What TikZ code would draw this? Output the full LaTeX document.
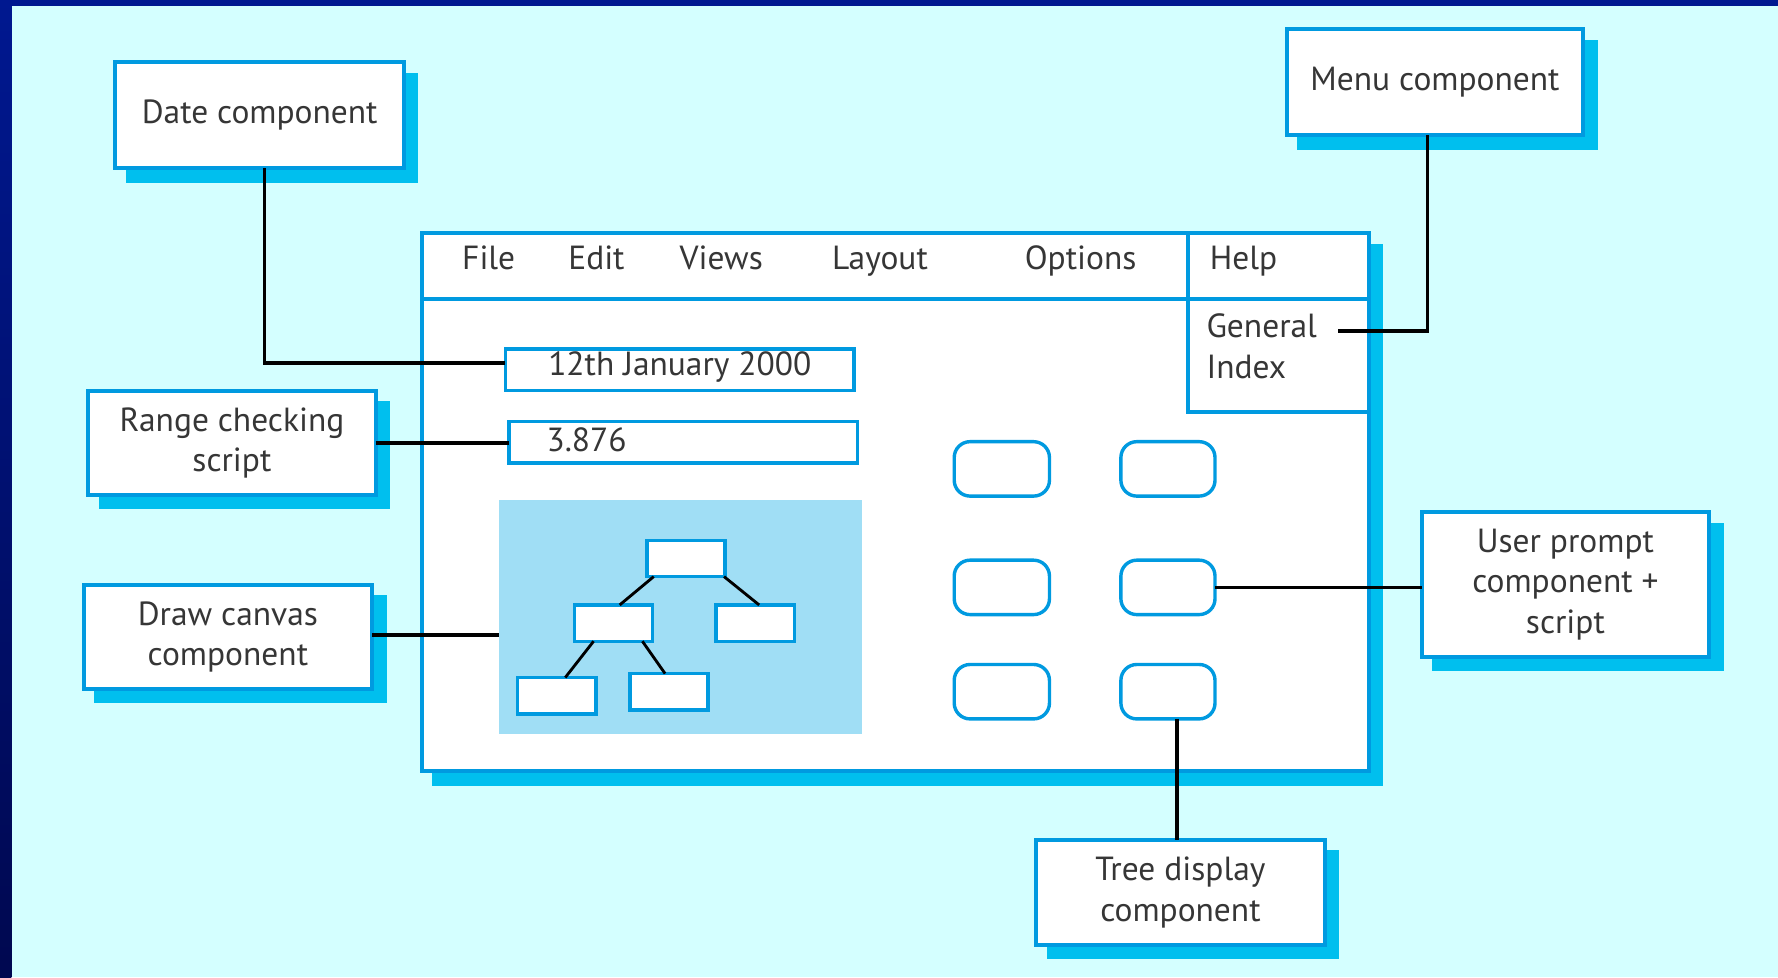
\documentclass[tikz,border=0pt]{standalone}
\usepackage{fontspec}
\setmainfont{PT Sans}
\usetikzlibrary{shadows,calc}
\definecolor{bg}{HTML}{D4FFFF}
\definecolor{bord}{HTML}{009AE0}
\definecolor{shad}{HTML}{00BFEE}
\definecolor{canv}{HTML}{A0DEF5}
\definecolor{navyA}{HTML}{001890}
\definecolor{navyB}{HTML}{000850}
\definecolor{txt}{HTML}{363636}
\tikzset{
  every node/.style={font=\fontsize{29.5}{35.5}\selectfont, text=txt, inner sep=0pt, outer sep=0pt},
  myshadow/.style={drop shadow={shadow xshift=11pt, shadow yshift=-11pt, opacity=1, fill=shad, draw=shad, line width=3.5pt}},
  comp/.style={draw=bord, line width=3.5pt, fill=white, align=center, myshadow},
  field/.style={draw=bord, line width=3pt, fill=white, minimum width=307.5pt, minimum height=36.5pt},
  leaf/.style={draw=bord, line width=3pt, fill=white, minimum width=69pt, minimum height=32pt},
  btn/.style={draw=bord, line width=3pt, fill=white, rounded corners=14pt, minimum height=48pt},
  conn/.style={line width=3pt, black},
  tline/.style={line width=2.5pt, black},
  lbl/.style={anchor=base}
}
\begin{document}
\begin{tikzpicture}[x=1pt,y=-1pt]
\useasboundingbox (0,0) rectangle (1568,862);
% background and frame
\fill[bg] (0,0) rectangle (1568,862);
\shade[top color=navyA, bottom color=navyB] (0,0) rectangle (10,862);
\fill[navyA] (0,0) rectangle (1568,5);

% main window
\node[draw=bord, line width=3.5pt, fill=white, myshadow, minimum width=835.5pt, minimum height=474.5pt] (win) at (789.5,443) {};
\draw[draw=bord, line width=3.5pt] (win.west |- 0,264) -- (win.east |- 0,264);
\draw[draw=bord, line width=3.5pt] (1048,0 |- win.north) -- (1048,363) -- (win.east |- 0,363);

% menu labels
\node[lbl] (mfile) at (431,238) {File};
\node[lbl] (medit) at (526,238) {Edit};
\node[lbl] (mviews) at (636,238) {Views};
\node[lbl] (mlayout) at (776,238) {Layout};
\node[lbl] (moptions) at (953,238) {Options};
\node[lbl, anchor=base west] (mhelp) at (1067,238) {Help};
\node[anchor=base west] (mgen) at (1064,298) {General};
\node[anchor=base west] (mindex) at (1064,334) {Index};
\coordinate (genend) at (1180,292);

% fields
\node[field] (f1) at (599.5,326) {};
\node (f1t) at (599.5,324) {12th January 2000};
\node[field] (f2) at (602.5,390) {};
\node[anchor=west] (f2t) at (482,388) {3.876};

% canvas
\node[fill=canv, minimum width=320pt, minimum height=206pt] (canvas) at (600,544) {};
\node[leaf] (t0) at (605,492.5) {};
\node[leaf] (t1) at (541,549.5) {};
\node[leaf] (t2) at (666,549.5) {};
\node[leaf] (t3) at (491,613.5) {};
\node[leaf] (t4) at (590,610) {};
\draw[tline] ([xshift=6pt]t0.south west) -- ([xshift=40pt]t1.north west);
\draw[tline] ([xshift=-1pt]t0.south east) -- ([xshift=38pt]t2.north west);
\draw[tline] ([xshift=17pt]t1.south west) -- ([xshift=42pt]t3.north west);
\draw[tline] ([xshift=60pt]t1.south west) -- ([xshift=31pt]t4.north west);

% buttons
\node[btn, minimum width=84pt] (b11) at (883.5,413.5) {};
\node[btn, minimum width=83pt] (b12) at (1030,413.5) {};
\node[btn, minimum width=84pt] (b21) at (883.5,518) {};
\node[btn, minimum width=83pt] (b22) at (1030,518) {};
\node[btn, minimum width=84pt] (b31) at (883.5,610) {};
\node[btn, minimum width=83pt] (b32) at (1030,610) {};

% component callouts
\node[comp, minimum width=254.5pt, minimum height=93.5pt] (date) at (229,101.5) {Date component};
\node[comp, minimum width=261.5pt, minimum height=93.5pt] (menu) at (1265.5,72.5) {Menu component};
\node[comp, minimum width=253.5pt, minimum height=91.5pt] (range) at (204.5,390.5) {Range checking\\script};
\node[comp, minimum width=254.5pt, minimum height=91.5pt] (drawc) at (201,561.5) {Draw canvas\\component};
\node[comp, minimum width=253.5pt, minimum height=127.5pt] (user) at (1380.5,515.5) {User prompt\\component +\\script};
\node[comp, minimum width=254.5pt, minimum height=92.5pt] (tree) at (1041,787) {Tree display\\component};

% connectors
\draw[conn] ([xshift=4pt]date.south) |- ([yshift=6pt]f1.west);
\draw[conn] ([xshift=-6.5pt]menu.south) |- (genend);
\draw[conn] (range.east) -- (range.east -| f2.west);
\draw[conn] ([yshift=1.5pt]drawc.east) -- ([yshift=1.5pt]drawc.east -| canvas.west);
\draw[conn] (b22.east) -- (b22.east -| user.west);
\draw[conn] ([xshift=8pt]b32.south) -- ([xshift=8pt]b32.south |- tree.north);
\end{tikzpicture}
\end{document}
